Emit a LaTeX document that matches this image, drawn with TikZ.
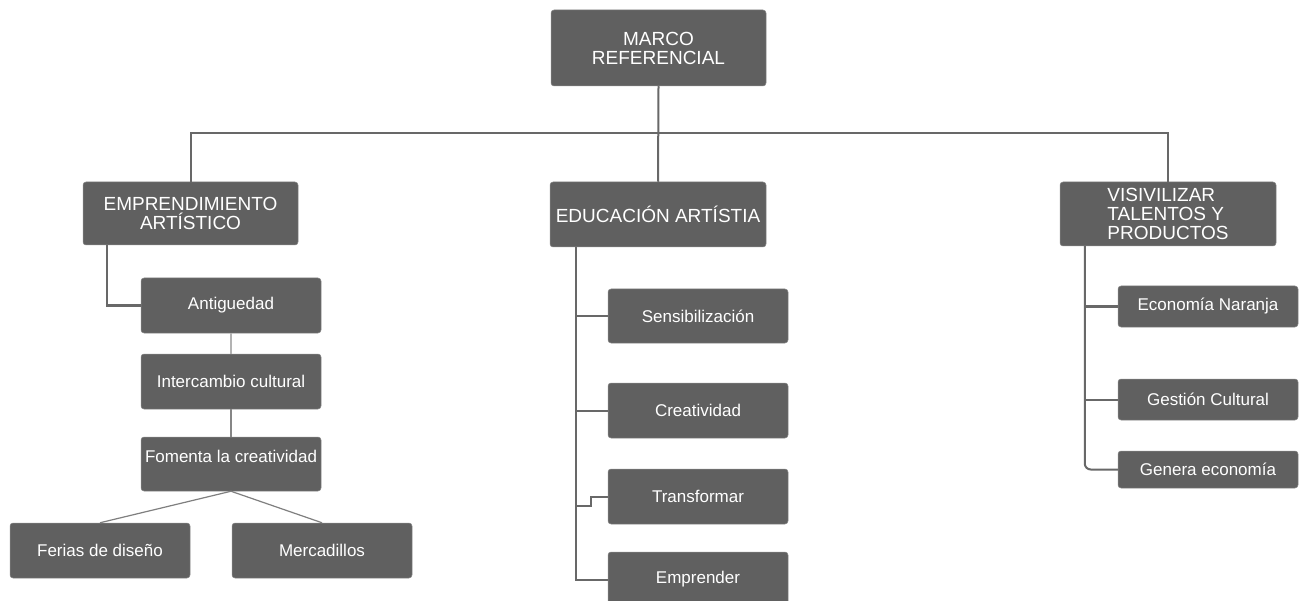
\documentclass[tikz,border=0pt]{standalone}
\usepackage{fontspec}
\setmainfont{Liberation Sans}
\definecolor{boxgray}{HTML}{606060}
\definecolor{boxedge}{HTML}{8A8A8A}
\definecolor{linegray}{HTML}{686868}
\begin{document}
\begin{tikzpicture}[x=1pt,y=-1pt,
  box/.style={fill=boxgray, draw=boxedge, line width=0.5pt, rounded corners=3pt,
    text=white, inner sep=0pt, align=center, font=\fontsize{17}{18}\selectfont},
  head/.style={box, font=\fontsize{19}{19}\selectfont},
  conn/.style={draw=linegray, line width=2pt},
  thinconn/.style={draw=linegray!85, line width=1.2pt}]
\useasboundingbox (0,0) rectangle (1305,601);
\clip (0,0) rectangle (1305,601);
\fill[white] (0,0) rectangle (1305,601);

% connectors first (under boxes)
\coordinate (bar) at (658,133);

% nodes
\node[head, minimum width=215, minimum height=76] (marco) at (658.5,48) {MARCO\\REFERENCIAL};
\node[head, minimum width=216, minimum height=65] (educ) at (658,214.5) {EDUCACIÓN ARTÍSTIA};
\node[head, minimum width=215, minimum height=63] (empr) at (190.5,213.5) {EMPRENDIMIENTO\\ARTÍSTICO};
\node[head, minimum width=216, minimum height=64, align=left] (vis) at (1168,214) {VISIVILIZAR\\TALENTOS Y\\PRODUCTOS};

\node[box, minimum width=180, minimum height=55] (ant) at (231,305.5) {Antiguedad};
\node[box, minimum width=180, minimum height=55] (inter) at (231,381.5) {Intercambio cultural};
\node[box, minimum width=180, text height=25, text depth=29] (fom) at (231,464) {Fomenta la creatividad};
\node[box, minimum width=180, minimum height=55] (ferias) at (100,550.5) {Ferias de diseño};
\node[box, minimum width=180, minimum height=55] (merc) at (322,550.5) {Mercadillos};

\node[box, minimum width=180, minimum height=54] (sens) at (698,316) {Sensibilización};
\node[box, minimum width=180, minimum height=55] (crea) at (698,410.5) {Creatividad};
\node[box, minimum width=180, minimum height=55] (trans) at (698,496.5) {Transformar};
\node[box, minimum width=180, minimum height=55] (empd) at (698,579.5) {Emprender};

\node[box, minimum width=180, minimum height=41] (eco) at (1208,306.5) {Economía Naranja};
\node[box, minimum width=180, minimum height=41] (gest) at (1208,399.5) {Gestión Cultural};
\node[box, minimum width=180, minimum height=37] (gen) at (1208,469.5) {Genera economía};

% top level connectors
\draw[conn] (marco.south) -- (educ.north);
\draw[conn] (empr.north) |- (bar) -| (vis.north);

% left branch
\draw[conn] ([xshift=24]empr.south west) |- (ant.west);
\draw[draw=linegray!50, line width=1.2pt] (ant.south) -- (inter.north);
\draw[draw=linegray!80, line width=1.5pt] (inter.south) -- (fom.north);
\draw[thinconn] (fom.south) -- (ferias.north);
\draw[thinconn] (fom.south) -- (merc.north);

% centre branch
\coordinate (ctop) at ([xshift=26]educ.south west);
\draw[conn] (ctop) |- (empd.west);
\draw[conn] (ctop) |- (sens.west);
\draw[conn] (ctop) |- (crea.west);
\draw[conn] (ctop |- 0,506) -- ++(15,0) |- (trans.west);

% right branch
\coordinate (rtop) at ([xshift=25]vis.south west);
\draw[conn, rounded corners=6] (rtop) |- (gen.west);
\draw[conn] (rtop) |- (eco.west);
\draw[conn] (rtop) |- (gest.west);
\end{tikzpicture}
\end{document}
